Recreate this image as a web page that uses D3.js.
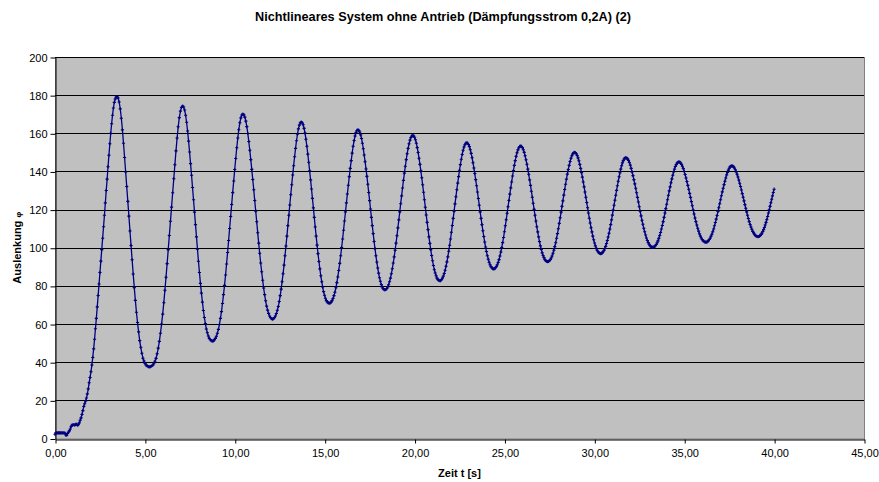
<!DOCTYPE html>
<html><head><meta charset="utf-8">
<script src="https://cdn.jsdelivr.net/npm/d3@7"></script>
<style>
html,body{margin:0;padding:0;background:#fff;}
svg text{font-family:"Liberation Sans",Arial,sans-serif;}
</style></head>
<body><svg id="chart" width="879" height="482"></svg>
<script>
const chartTitle = "Nichtlineares System ohne Antrieb (Dämpfungsstrom 0,2A) (2)";
const xTitle = "Zeit t [s]";
const yTitle = "Auslenkung ";
const yTitleSymbol = "φ";
const xTicks = [0,5,10,15,20,25,30,35,40,45];
const yTicks = [0,20,40,60,80,100,120,140,160,180,200];

const zeitS = [
0,0.05,0.1,0.15,0.2,0.25,0.3,0.35,0.4,0.45,0.5,0.55,0.6,0.65,0.7,0.75,0.8,0.85,0.9,0.95,1,1.05,1.1,1.15,1.2,1.25,1.3,1.35,1.4,1.45,1.5,1.55,1.6,1.65,1.7,1.75,1.8,1.85,1.9,1.95,2,2.05,2.1,2.15,2.2,2.25,2.3,2.35,2.4,2.45,2.5,2.55,2.6,2.65,2.7,2.75,2.8,2.85,2.9,2.95,3,3.05,3.1,3.15,3.2,3.25,3.3,3.35,3.4,3.45,
3.51,3.57,3.63,3.69,3.75,3.81,3.87,3.93,3.99,4.05,4.11,4.17,4.23,4.29,4.35,4.41,4.47,4.53,4.59,4.65,4.71,4.77,4.83,4.89,4.95,5.01,5.07,5.13,5.19,5.25,
5.312,5.373,5.435,5.497,5.558,5.62,5.682,5.743,5.805,5.867,5.928,5.99,6.052,6.113,6.175,6.237,6.298,6.36,6.422,6.483,6.545,6.607,6.668,6.73,6.792,6.853,6.915,6.977,7.038,7.1,
7.155,7.21,7.265,7.32,7.375,7.43,7.485,7.54,7.595,7.65,7.705,7.76,7.815,7.87,7.925,7.98,8.035,8.09,8.145,8.2,8.255,8.31,8.365,8.42,8.475,8.53,8.585,8.64,8.695,8.75,
8.807,8.863,8.92,8.977,9.033,9.09,9.147,9.203,9.26,9.317,9.373,9.43,9.487,9.543,9.6,9.657,9.713,9.77,9.827,9.883,9.94,9.997,10.053,10.11,10.167,10.223,10.28,10.337,10.393,10.45,
10.505,10.56,10.615,10.67,10.725,10.78,10.835,10.89,10.945,11,11.055,11.11,11.165,11.22,11.275,11.33,11.385,11.44,11.495,11.55,11.605,11.66,11.715,11.77,11.825,11.88,11.935,11.99,12.045,12.1,
12.153,12.207,12.26,12.313,12.367,12.42,12.473,12.527,12.58,12.633,12.687,12.74,12.793,12.847,12.9,12.953,13.007,13.06,13.113,13.167,13.22,13.273,13.327,13.38,13.433,13.487,13.54,13.593,13.647,13.7,
13.752,13.803,13.855,13.907,13.958,14.01,14.062,14.113,14.165,14.217,14.268,14.32,14.372,14.423,14.475,14.527,14.578,14.63,14.682,14.733,14.785,14.837,14.888,14.94,14.992,15.043,15.095,15.147,15.198,15.25,
15.303,15.357,15.41,15.463,15.517,15.57,15.623,15.677,15.73,15.783,15.837,15.89,15.943,15.997,16.05,16.103,16.157,16.21,16.263,16.317,16.37,16.423,16.477,16.53,16.583,16.637,16.69,16.743,16.797,16.85,
16.9,16.95,17,17.05,17.1,17.15,17.2,17.25,17.3,17.35,17.4,17.45,17.5,17.55,17.6,17.65,17.7,17.75,17.8,17.85,17.9,17.95,18,18.05,18.1,18.15,18.2,18.25,18.3,18.35,
18.402,18.453,18.505,18.557,18.608,18.66,18.712,18.763,18.815,18.867,18.918,18.97,19.022,19.073,19.125,19.177,19.228,19.28,19.332,19.383,19.435,19.487,19.538,19.59,19.642,19.693,19.745,19.797,19.848,19.9,
19.95,20,20.05,20.1,20.15,20.2,20.25,20.3,20.35,20.4,20.45,20.5,20.55,20.6,20.65,20.7,20.75,20.8,20.85,20.9,20.95,21,21.05,21.1,21.15,21.2,21.25,21.3,21.35,21.4,
21.45,21.5,21.55,21.6,21.65,21.7,21.75,21.8,21.85,21.9,21.95,22,22.05,22.1,22.15,22.2,22.25,22.3,22.35,22.4,22.45,22.5,22.55,22.6,22.65,22.7,22.75,22.8,22.85,22.9,
22.95,23,23.05,23.1,23.15,23.2,23.25,23.3,23.35,23.4,23.45,23.5,23.55,23.6,23.65,23.7,23.75,23.8,23.85,23.9,23.95,24,24.05,24.1,24.15,24.2,24.25,24.3,24.35,24.4,
24.45,24.5,24.55,24.6,24.65,24.7,24.75,24.8,24.85,24.9,24.95,25,25.05,25.1,25.15,25.2,25.25,25.3,25.35,25.4,25.45,25.5,25.55,25.6,25.65,25.7,25.75,25.8,25.85,25.9,
25.95,26,26.05,26.1,26.15,26.2,26.25,26.3,26.35,26.4,26.45,26.5,26.55,26.6,26.65,26.7,26.75,26.8,26.85,26.9,26.95,27,27.05,27.1,27.15,27.2,27.25,27.3,27.35,27.4,
27.45,27.5,27.55,27.6,27.65,27.7,27.75,27.8,27.85,27.9,27.95,28,28.05,28.1,28.15,28.2,28.25,28.3,28.35,28.4,28.45,28.5,28.55,28.6,28.65,28.7,28.75,28.8,28.85,28.9,
28.948,28.997,29.045,29.093,29.142,29.19,29.238,29.287,29.335,29.383,29.432,29.48,29.528,29.577,29.625,29.673,29.722,29.77,29.818,29.867,29.915,29.963,30.012,30.06,30.108,30.157,30.205,30.253,30.302,30.35,
30.397,30.443,30.49,30.537,30.583,30.63,30.677,30.723,30.77,30.817,30.863,30.91,30.957,31.003,31.05,31.097,31.143,31.19,31.237,31.283,31.33,31.377,31.423,31.47,31.517,31.563,31.61,31.657,31.703,31.75,
31.8,31.85,31.9,31.95,32,32.05,32.1,32.15,32.2,32.25,32.3,32.35,32.4,32.45,32.5,32.55,32.6,32.65,32.7,32.75,32.8,32.85,32.9,32.95,33,33.05,33.1,33.15,33.2,33.25,
33.298,33.347,33.395,33.443,33.492,33.54,33.588,33.637,33.685,33.733,33.782,33.83,33.878,33.927,33.975,34.023,34.072,34.12,34.168,34.217,34.265,34.313,34.362,34.41,34.458,34.507,34.555,34.603,34.652,34.7,
34.75,34.8,34.85,34.9,34.95,35,35.05,35.1,35.15,35.2,35.25,35.3,35.35,35.4,35.45,35.5,35.55,35.6,35.65,35.7,35.75,35.8,35.85,35.9,35.95,36,36.05,36.1,36.15,36.2,
36.248,36.297,36.345,36.393,36.442,36.49,36.538,36.587,36.635,36.683,36.732,36.78,36.828,36.877,36.925,36.973,37.022,37.07,37.118,37.167,37.215,37.263,37.312,37.36,37.408,37.457,37.505,37.553,37.602,37.65,
37.698,37.747,37.795,37.843,37.892,37.94,37.988,38.037,38.085,38.133,38.182,38.23,38.278,38.327,38.375,38.423,38.472,38.52,38.568,38.617,38.665,38.713,38.762,38.81,38.858,38.907,38.955,39.003,39.052,39.1,
39.145,39.19,39.235,39.28,39.325,39.37,39.415,39.46,39.505,39.55,39.595,39.64,39.685,39.73,39.775,39.82,39.865,39.91,39.955,40
];

const auslenkung = [
2.2,3.0,3.0,3.0,3.0,3.0,3.0,3.0,3.0,3.0,3.0,2.8,1.8,1.7,2.6,3.4,4.0,5.0,6.3,7.0,7.2,7.3,7.0,7.4,7.4,7.0,7.2,8.2,9.6,10.8,12.6,14.6,16.8,18.2,19.6,21.2,23.4,26.0,29.2,32.0,35.0,38.5,42.5,47,52,57.5,63,69,75,81,87,93,99,105,111,117,123.5,130,136,142.5,148.5,154.5,160,165,169.5,173.3,176.2,178.0,179.0,179.2,
178.5,176.4,172.8,167.9,161.8,154.8,147.3,139.7,132.1,124.3,116.6,108.8,101.2,93.7,86.2,79.1,72.4,66.2,60.8,55.9,51.3,47.8,44.7,42.1,40.6,39.3,38.5,38.0,37.7,37.6,
37.7,38.0,38.4,39.2,40.5,42.0,44.4,47.4,50.9,55.2,60.0,65.2,71.2,77.7,84.5,91.7,99.0,106.4,113.9,121.3,128.8,136.2,143.5,150.8,157.5,163.4,168.2,171.6,173.6,174.3,
173.8,172.2,169.5,165.8,161.2,155.9,150.2,144.1,138.0,131.6,125.2,118.7,112.1,105.7,99.2,92.9,87.0,81.3,76.2,71.5,67.1,63.4,60.2,57.4,55.4,53.7,52.5,51.8,51.3,51.1,
51.2,51.7,52.5,53.6,55.2,57.2,59.8,63.0,66.5,70.8,75.4,80.3,85.7,91.5,97.5,103.8,110.1,116.4,122.7,128.9,135.0,141.0,146.8,152.4,157.5,161.9,165.5,168.1,169.6,170.1,
169.7,168.5,166.4,163.5,159.9,155.7,151.1,146.2,141.1,135.8,130.4,124.8,119.2,113.6,107.9,102.4,97.1,92.0,87.4,83.0,78.9,75.4,72.2,69.4,67.3,65.6,64.2,63.3,62.8,62.6,
62.8,63.3,64.2,65.5,67.2,69.2,71.8,74.9,78.3,82.2,86.4,90.9,95.8,100.9,106.1,111.6,117.0,122.4,127.8,133.0,138.1,143.0,147.7,152.1,156.1,159.5,162.3,164.3,165.5,165.9,
165.5,164.5,162.6,160.1,156.9,153.2,149.1,144.8,140.3,135.6,130.8,125.9,120.9,115.9,110.9,106.1,101.4,96.9,92.8,88.9,85.3,82.2,79.4,77.0,75.1,73.5,72.3,71.6,71.1,70.9,
71.0,71.5,72.3,73.4,74.9,76.7,79.0,81.7,84.7,88.1,91.8,95.8,100.1,104.6,109.2,114.0,118.8,123.5,128.2,132.8,137.3,141.6,145.7,149.6,153.2,156.2,158.6,160.4,161.5,161.8,
161.5,160.7,159.2,157.3,154.8,151.9,148.6,145.1,141.3,137.4,133.3,129.0,124.7,120.3,115.9,111.6,107.4,103.3,99.5,95.8,92.5,89.4,86.7,84.3,82.4,80.7,79.5,78.6,78.1,77.9,
78.1,78.6,79.4,80.6,82.2,84.1,86.4,89.0,92.0,95.2,98.7,102.4,106.3,110.4,114.6,118.8,123.1,127.2,131.3,135.3,139.1,142.7,146.2,149.3,152.1,154.5,156.4,157.8,158.6,158.9,
158.6,157.9,156.6,154.8,152.5,149.9,146.9,143.7,140.3,136.7,133.0,129.1,125.2,121.2,117.2,113.3,109.5,105.7,102.3,99.0,95.9,93.2,90.7,88.5,86.8,85.3,84.1,83.3,82.9,82.7,
82.8,83.3,84.1,85.1,86.5,88.2,90.3,92.6,95.2,98.2,101.3,104.6,108.1,111.7,115.4,119.2,123.0,126.7,130.4,133.9,137.3,140.6,143.6,146.4,148.9,151.1,152.8,154.0,154.8,155.0,
154.8,154.1,153.0,151.4,149.5,147.2,144.6,141.8,138.9,135.7,132.5,129.2,125.8,122.3,118.8,115.4,112.1,108.9,105.9,103.0,100.4,98.0,95.8,94.0,92.4,91.1,90.1,89.5,89.0,88.9,
89.0,89.5,90.1,91.1,92.3,93.8,95.7,97.8,100.1,102.7,105.4,108.4,111.5,114.7,118.1,121.5,124.8,128.1,131.4,134.5,137.6,140.5,143.2,145.7,147.9,149.8,151.3,152.4,153.1,153.3,
153.1,152.5,151.4,150.0,148.2,146.1,143.8,141.2,138.5,135.6,132.7,129.6,126.5,123.3,120.1,117.0,114.0,111.0,108.3,105.7,103.2,101.0,99.1,97.3,95.9,94.8,93.8,93.2,92.8,92.7,
92.8,93.2,93.8,94.6,95.7,97.1,98.7,100.6,102.6,105.0,107.4,110.0,112.8,115.7,118.7,121.7,124.6,127.6,130.5,133.3,136.0,138.6,141.0,143.2,145.2,146.9,148.2,149.2,149.8,150.0,
149.8,149.3,148.4,147.1,145.6,143.7,141.6,139.4,137.0,134.5,131.9,129.2,126.5,123.7,121.0,118.2,115.5,113.0,110.5,108.3,106.1,104.2,102.5,101.0,99.7,98.7,97.9,97.4,97.0,96.9,
97.0,97.3,97.9,98.6,99.6,100.7,102.2,103.8,105.6,107.6,109.8,112.1,114.6,117.1,119.7,122.3,124.9,127.5,130.1,132.5,134.9,137.2,139.3,141.2,143.0,144.5,145.7,146.5,147.0,147.2,
147.0,146.6,145.8,144.7,143.3,141.6,139.8,137.8,135.7,133.5,131.2,128.8,126.4,124.0,121.5,119.1,116.7,114.4,112.3,110.2,108.4,106.7,105.1,103.8,102.7,101.8,101.1,100.6,100.3,100.2,
100.3,100.6,101.1,101.7,102.6,103.6,104.9,106.4,108.0,109.8,111.7,113.7,115.9,118.2,120.5,122.8,125.2,127.5,129.8,131.9,134.1,136.1,138.0,139.7,141.2,142.6,143.6,144.4,144.8,145.0,
144.9,144.4,143.7,142.7,141.5,140.0,138.4,136.6,134.7,132.7,130.7,128.5,126.4,124.2,122.0,119.8,117.7,115.6,113.7,111.9,110.2,108.7,107.3,106.1,105.1,104.3,103.7,103.3,103.0,102.9,
103.0,103.2,103.7,104.3,105.0,106.0,107.1,108.4,109.8,111.5,113.2,115.0,116.9,119.0,121.0,123.1,125.2,127.3,129.3,131.2,133.1,134.9,136.6,138.2,139.5,140.7,141.7,142.4,142.8,142.9,
142.8,142.4,141.8,140.9,139.8,138.5,137.1,135.5,133.8,132.1,130.3,128.4,126.5,124.6,122.6,120.7,118.8,117.0,115.3,113.7,112.2,110.9,109.7,108.6,107.8,107.1,106.5,106.1,105.9,105.8,
105.9,106.1,106.5,107.0,107.7,108.5,109.5,110.6,111.9,113.3,114.8,116.4,118.2,119.9,121.7,123.6,125.4,127.2,129.0,130.7
];

const nPoints = Math.min(zeitS.length, auslenkung.length);
if (zeitS.length !== auslenkung.length) console.warn("length mismatch", zeitS.length, auslenkung.length);
const seriesData = d3.range(nPoints).map(i => ({t: zeitS[i], v: auslenkung[i]}));

const svg = d3.select("#chart");
const plotLeft = 55, plotRight = 864, plotTop = 57, plotBottom = 438.5;
const xScale = d3.scaleLinear().domain([0, 45]).range([plotLeft, plotRight]);
const yScale = d3.scaleLinear().domain([0, 200]).range([plotBottom, plotTop]);
const deLocale = d3.formatLocale({decimal: ",", thousands: ".", grouping: [3], currency: ["", "€"]});
const fmtX = deLocale.format(".2f");

// plot area
svg.append("rect").attr("x", plotLeft + 0.5).attr("y", plotTop + 0.5)
  .attr("width", plotRight - plotLeft).attr("height", plotBottom - plotTop)
  .attr("fill", "#c0c0c0").attr("stroke", "#808080").attr("stroke-width", 1);

// grid lines
svg.append("g").selectAll("line").data(yTicks.filter(d => d > 0)).join("line")
  .attr("x1", plotLeft).attr("x2", plotRight)
  .attr("y1", d => Math.round(yScale(d)) + 0.5).attr("y2", d => Math.round(yScale(d)) + 0.5)
  .attr("stroke", "#000").attr("stroke-width", 1);

// axes
const yAxisG = svg.append("g").attr("transform", `translate(${plotLeft + 0.5},0.5)`)
  .call(d3.axisLeft(yScale).tickValues(yTicks).tickSize(5).tickSizeOuter(0).tickPadding(3).tickFormat(d => String(d)));
const xAxisG = svg.append("g").attr("transform", `translate(0.5,${Math.round(plotBottom) + 0.5})`)
  .call(d3.axisBottom(xScale).tickValues(xTicks).tickSize(4).tickSizeOuter(0).tickPadding(6).tickFormat(d => fmtX(d)));
[yAxisG, xAxisG].forEach(g => {
  g.selectAll("path,line").attr("stroke", "#000");
  g.selectAll("text").attr("font-size", 11).attr("fill", "#000")
    .attr("font-family", '"Liberation Sans",Arial,sans-serif');
});

// series
const lineGen = d3.line().x(d => xScale(d.t)).y(d => yScale(d.v));
svg.append("path").datum(seriesData).attr("d", lineGen)
  .attr("fill", "none").attr("stroke", "#000080").attr("stroke-width", 1.3).attr("stroke-linejoin", "round");
svg.append("g").selectAll("path").data(seriesData).join("path")
  .attr("transform", d => `translate(${xScale(d.t)},${yScale(d.v)})`)
  .attr("d", "M-1.6,0H1.6M0,-1.6V1.6")
  .attr("stroke", "#000080").attr("stroke-width", 1.1).attr("fill", "none");

// titles
svg.append("text").attr("x", 443).attr("y", 21).attr("text-anchor", "middle")
  .attr("font-size", 13).attr("font-weight", "bold")
  .attr("textLength", 376).attr("lengthAdjust", "spacingAndGlyphs").text(chartTitle);
svg.append("text").attr("x", (plotLeft + plotRight) / 2).attr("y", 477).attr("text-anchor", "middle")
  .attr("font-size", 11).attr("font-weight", "bold").text(xTitle);
const yTitleText = svg.append("text").attr("transform", `translate(21,${(plotTop + plotBottom) / 2}) rotate(-90)`)
  .attr("text-anchor", "middle").attr("font-size", 11).attr("font-weight", "bold");
yTitleText.append("tspan").text(yTitle);
yTitleText.append("tspan").attr("font-size", 8).text(yTitleSymbol);
</script></body></html>
